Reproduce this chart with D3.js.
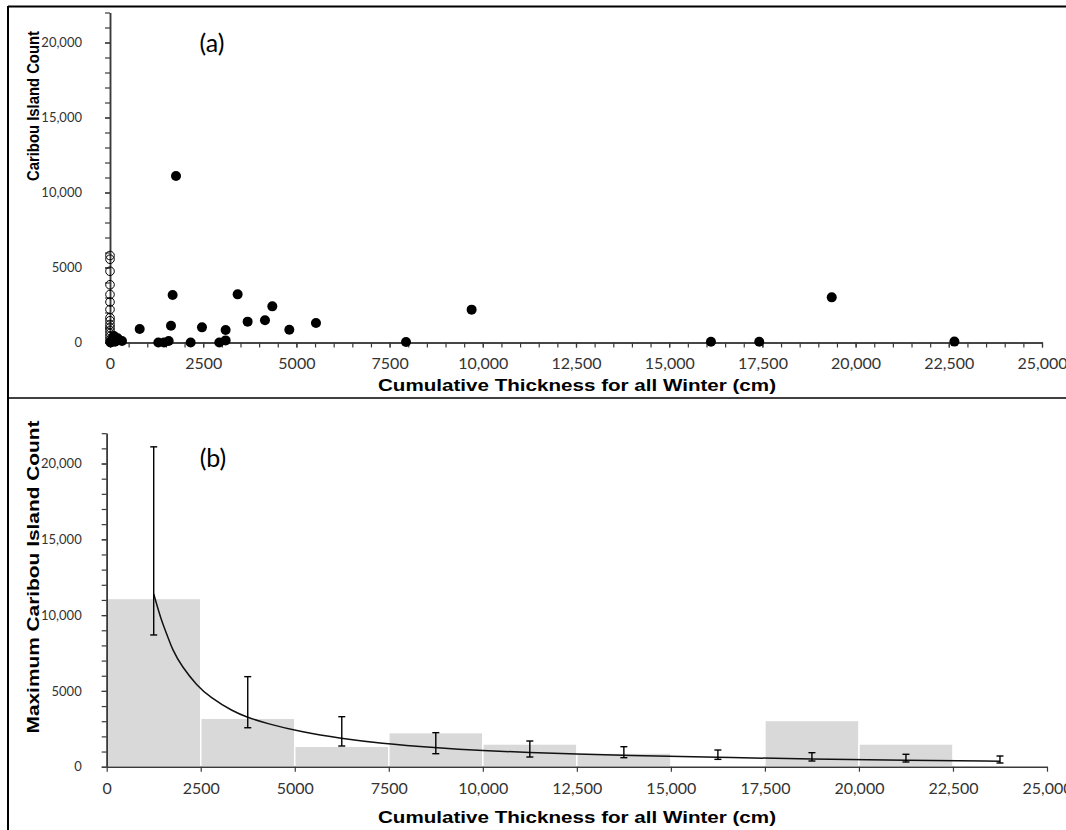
<!DOCTYPE html>
<html>
<head>
<meta charset="utf-8">
<script src="https://cdn.jsdelivr.net/npm/d3@7"></script>
<style>
  body { margin: 0; background: #fff; }
  svg { display: block; }
</style>
</head>
<body>
<div id="wrapper"></div>
<script>
// panel (a) - every winter, filled = ice present, open = no ice
const thickA = [15, 45, 60, 90, 107, 134, 205, 322, 796, 1296, 1448, 1574, 1636, 1680, 1770, 2164, 2467, 2932,
    3102, 3102, 3424, 3692, 4157, 4354, 4810, 5525, 7940, 9700, 16120, 17415, 19360, 22650];
const countA = [0, 50, 200, 350, 430, 50, 280, 100, 900, 0, 0, 100, 1120, 3170, 11100, 0, 1010, 0,
    140, 830, 3210, 1390, 1480, 2410, 850, 1300, 30, 2190, 50, 50, 3010, 60];
const thickOpen = [0, 0, 0, 0, 0, 0, 0, 0, 0, 0, 0, 0, 0, 0, 0, 0];
const countOpen = [5800, 5550, 4750, 3850, 3200, 2700, 2200, 1650, 1450, 1200, 1000, 800, 600, 400, 200, 50];

// panel (b) - maximum per 2500 cm bin
const binStart = [0, 2500, 5000, 7500, 10000, 12500, 15000, 17500, 20000, 22500];
const binMax = [11100, 3200, 1350, 2250, 1500, 900, 0, 3050, 1500, 0];
const errX = [1250, 3750, 6250, 8750, 11250, 13750, 16250, 18750, 21250, 23750];
const errHigh = [21100, 5940, 3300, 2245, 1695, 1320, 1100, 925, 818, 706];
const errLow = [8690, 2570, 1365, 858, 640, 594, 485, 376, 310, 244];
// fitted curve
const fitX = [1250, 1450, 1600, 1750, 2000, 2400, 2750, 3350, 3750, 4250, 5150, 6250, 7250,
    8750, 10000, 11250, 12500, 13750, 16250, 18750, 21250, 23750];
const fitY = [11400, 9650, 8750, 7700, 6600, 5350, 4580, 3650, 3250, 2850, 2300, 1850, 1550,
    1250, 1060, 930, 830, 750, 620, 500, 420, 360];

const xMajor = d3.range(0, 25001, 2500);
const yMajor = [0, 5000, 10000, 15000, 20000];
const xTitle = "Cumulative Thickness for all Winter (cm)";

const fmt = (d) => d >= 10000 ? d3.format(",")(d) : String(d);

const svg = d3.select("#wrapper").append("svg")
    .attr("width", 1066)
    .attr("height", 830);

// figure frame
svg.append("line").attr("x1", 8).attr("x2", 8).attr("y1", 6).attr("y2", 830)
    .attr("stroke", "#000").attr("stroke-width", 2);
svg.append("line").attr("x1", 8).attr("x2", 1066).attr("y1", 6.5).attr("y2", 6.5)
    .attr("stroke", "#000").attr("stroke-width", 2);
svg.append("line").attr("x1", 8).attr("x2", 1066).attr("y1", 398).attr("y2", 398)
    .attr("stroke", "#000").attr("stroke-width", 1.5);

function styleAxis(g) {
    g.select(".domain").attr("stroke", "#3a3a3a").attr("stroke-width", 1.5);
    g.selectAll(".tick line").attr("stroke", "#3a3a3a").attr("stroke-width", 1.2);
    g.selectAll(".tick text").attr("fill", "#333").style("font-family", "Lato");
}

// ---------- panel (a) ----------
const xA = d3.scaleLinear().domain([0, 25000]).range([110, 1042]);
const yA = d3.scaleLinear().domain([0, 22000]).range([342.5, 12.5]);

svg.append("g")
    .attr("transform", `translate(0, ${yA(0)})`)
    .call(d3.axisBottom(xA).tickValues(d3.range(0, 25001, 500)).tickFormat("").tickSize(5).tickSizeOuter(0))
    .call(styleAxis);
svg.append("g")
    .attr("transform", `translate(0, ${yA(0)})`)
    .call(d3.axisBottom(xA).tickValues(xMajor).tickFormat(fmt).tickSize(5).tickPadding(10).tickSizeOuter(0))
    .call(styleAxis)
    .call(g => g.selectAll(".tick text").style("font-size", "16px"));

svg.append("g")
    .attr("transform", `translate(${xA(0)}, 0)`)
    .call(d3.axisLeft(yA).tickValues(d3.range(0, 22001, 1000)).tickFormat("").tickSize(5).tickSizeOuter(0))
    .call(styleAxis);
svg.append("g")
    .attr("transform", `translate(${xA(0)}, 0)`)
    .call(d3.axisLeft(yA).tickValues(yMajor).tickFormat(fmt).tickSize(5).tickPadding(23).tickSizeOuter(0))
    .call(styleAxis)
    .call(g => g.selectAll(".tick text").style("font-size", "13px"));

svg.append("g").selectAll("circle")
    .data(countOpen)
    .join("circle")
    .attr("cx", (d, i) => xA(thickOpen[i]))
    .attr("cy", d => yA(d))
    .attr("r", 4.3)
    .attr("fill", "none")
    .attr("stroke", "#000")
    .attr("stroke-width", 1);

svg.append("g").selectAll("circle")
    .data(countA)
    .join("circle")
    .attr("cx", (d, i) => xA(thickA[i]))
    .attr("cy", d => yA(d))
    .attr("r", 5)
    .attr("fill", "#000");

svg.append("text")
    .attr("x", 212).attr("y", 52)
    .attr("text-anchor", "middle")
    .style("font-family", "Lato").style("font-size", "25px")
    .text("(a)");

svg.append("text")
    .attr("x", 577).attr("y", 391)
    .attr("text-anchor", "middle")
    .attr("textLength", 398).attr("lengthAdjust", "spacingAndGlyphs")
    .style("font-family", "Liberation Sans").style("font-weight", "bold").style("font-size", "17px")
    .text(xTitle);

svg.append("text")
    .attr("transform", "translate(39, 106) rotate(-90)")
    .attr("text-anchor", "middle")
    .attr("textLength", 150).attr("lengthAdjust", "spacingAndGlyphs")
    .style("font-family", "Liberation Sans").style("font-weight", "bold").style("font-size", "16px")
    .text("Caribou Island Count");

// ---------- panel (b) ----------
const xB = d3.scaleLinear().domain([0, 25000]).range([106.7, 1047]);
const yB = d3.scaleLinear().domain([0, 22000]).range([766.7, 433.2]);

svg.append("g").selectAll("rect")
    .data(binMax)
    .join("rect")
    .attr("x", (d, i) => xB(binStart[i]))
    .attr("width", (d, i) => xB(binStart[i] + 2500) - xB(binStart[i]))
    .attr("y", d => yB(d))
    .attr("height", d => yB(0) - yB(d))
    .attr("fill", "#d9d9d9")
    .attr("stroke", "#fff")
    .attr("stroke-width", 1.5);

svg.append("g")
    .attr("transform", `translate(0, ${yB(0)})`)
    .call(d3.axisBottom(xB).tickValues(xMajor).tickFormat(fmt).tickSize(5).tickPadding(11).tickSizeOuter(0))
    .call(styleAxis)
    .call(g => g.selectAll(".tick text").style("font-size", "16px"));

svg.append("g")
    .attr("transform", `translate(${xB(0)}, 0)`)
    .call(d3.axisLeft(yB).tickValues(d3.range(0, 22001, 1000)).tickFormat("").tickSize(5).tickSizeOuter(0))
    .call(styleAxis);
svg.append("g")
    .attr("transform", `translate(${xB(0)}, 0)`)
    .call(d3.axisLeft(yB).tickValues(yMajor).tickFormat(fmt).tickSize(5).tickPadding(20).tickSizeOuter(0))
    .call(styleAxis)
    .call(g => g.selectAll(".tick text").style("font-size", "13px"));

const fitLine = d3.line()
    .x(d => xB(d[0]))
    .y(d => yB(d[1]))
    .curve(d3.curveBasis);

svg.append("path")
    .attr("d", fitLine(d3.zip(fitX, fitY)))
    .attr("fill", "none")
    .attr("stroke", "#111")
    .attr("stroke-width", 1.5);

const errG = svg.append("g").attr("stroke", "#000").attr("stroke-width", 1.4);
errG.selectAll(".stem")
    .data(errX)
    .join("line")
    .attr("x1", d => xB(d)).attr("x2", d => xB(d))
    .attr("y1", (d, i) => yB(errHigh[i]))
    .attr("y2", (d, i) => yB(errLow[i]));
errG.selectAll(".capTop")
    .data(errX)
    .join("line")
    .attr("x1", d => xB(d) - 3.5).attr("x2", d => xB(d) + 3.5)
    .attr("y1", (d, i) => yB(errHigh[i]))
    .attr("y2", (d, i) => yB(errHigh[i]));
errG.selectAll(".capLow")
    .data(errX)
    .join("line")
    .attr("x1", d => xB(d) - 3.5).attr("x2", d => xB(d) + 3.5)
    .attr("y1", (d, i) => yB(errLow[i]))
    .attr("y2", (d, i) => yB(errLow[i]));

svg.append("text")
    .attr("x", 213).attr("y", 467)
    .attr("text-anchor", "middle")
    .style("font-family", "Lato").style("font-size", "25px")
    .text("(b)");

svg.append("text")
    .attr("x", 577).attr("y", 823)
    .attr("text-anchor", "middle")
    .attr("textLength", 398).attr("lengthAdjust", "spacingAndGlyphs")
    .style("font-family", "Liberation Sans").style("font-weight", "bold").style("font-size", "17px")
    .text(xTitle);

svg.append("text")
    .attr("transform", "translate(39, 577) rotate(-90)")
    .attr("text-anchor", "middle")
    .attr("textLength", 313).attr("lengthAdjust", "spacingAndGlyphs")
    .style("font-family", "Liberation Sans").style("font-weight", "bold").style("font-size", "16px")
    .text("Maximum Caribou Island Count");
</script>
</body>
</html>
